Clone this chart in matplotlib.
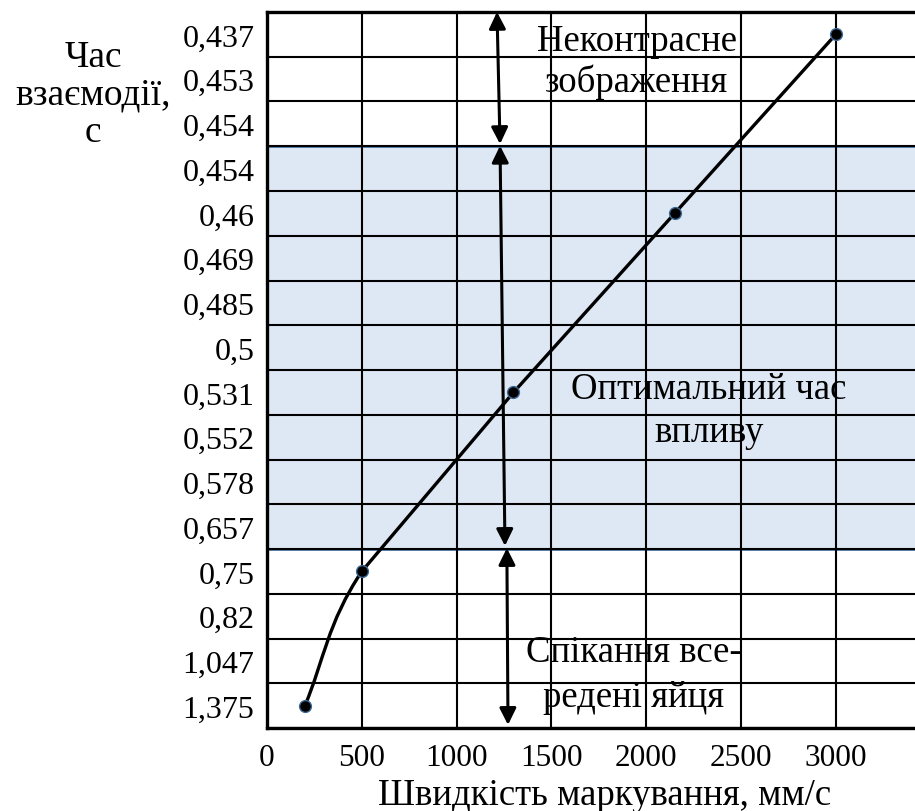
import numpy as np
import matplotlib
matplotlib.use('Agg')
import matplotlib.pyplot as plt
from matplotlib.path import Path
from matplotlib.patches import PathPatch

plt.rcParams['font.family'] = ['Liberation Serif', 'DejaVu Serif']

# y axis is a list of categories (one per row, top to bottom)
time_labels = ['0,437', '0,453', '0,454', '0,454', '0,46', '0,469', '0,485', '0,5',
               '0,531', '0,552', '0,578', '0,657', '0,75', '0,82', '1,047', '1,375']
speed = [200, 500, 1300, 2150, 3000]          # мм/с
point_time = ['1,375', '0,75', '0,531', '0,46', '0,437']
x_ticks = [0, 500, 1000, 1500, 2000, 2500, 3000]

# rows of the zones (row borders)
optimal_zone = (3, 12)
zone_texts = ['Неконтрасне\nзображення', 'Оптимальний час\nвпливу', 'Спікання все-\nредені яйця']

rows = len(time_labels)
py = [time_labels.index(t) + 0.5 for t in point_time]

fig = plt.figure(figsize=(9.15, 8.12), dpi=100)
ax = fig.add_axes([0.2918, 0.1022, 0.7253, 0.8818])
ax.set_xlim(0, 3500)
ax.set_ylim(rows, 0)

ax.axhspan(optimal_zone[0], optimal_zone[1], facecolor='#dee8f4', edgecolor='#4a76a8', lw=2, zorder=1)

ax.set_xticks(x_ticks)
ax.set_xticklabels([str(v) for v in x_ticks], fontsize=22.5)
ax.set_yticks(np.arange(rows) + 0.5)
ax.set_yticklabels(time_labels, fontsize=23)
ax.set_yticks(np.arange(rows + 1), minor=True)
ax.tick_params(which='both', length=0)
ax.tick_params(axis='y', pad=9)
ax.tick_params(axis='x', pad=11)
ax.grid(True, which='major', axis='x', color='black', lw=1.5, zorder=1.5)
ax.grid(True, which='minor', axis='y', color='black', lw=1.5, zorder=1.5)
for s in ['left', 'bottom', 'top']:
    ax.spines[s].set_linewidth(2.4)
ax.spines['right'].set_visible(False)

# first piece is a smooth curve, the rest is straight
pts = np.column_stack([speed, py]).astype(float)
c1 = pts[0] + (pts[1] - pts[0]) / 3
c2 = pts[1] - (pts[2] - pts[0]) / 6
verts = [tuple(pts[0]), tuple(c1), tuple(c2), tuple(pts[1])]
codes = [Path.MOVETO, Path.CURVE4, Path.CURVE4, Path.CURVE4]
for p in pts[2:]:
    verts.append(tuple(p))
    codes.append(Path.LINETO)
ax.add_patch(PathPatch(Path(verts, codes), fill=False, color='black', lw=2.4, zorder=3,
                       joinstyle='round', capstyle='round'))
ax.plot(speed, py, 'o', color='black', markersize=8.5, markeredgecolor='#3b6894', markeredgewidth=1, zorder=4)

# double arrows of the zones
arrows = [((1213, 0.0), (1229, 2.95)), ((1229, 2.99), (1255, 11.93)), ((1265, 11.98), (1271, 15.93))]
for a, b in arrows:
    ax.annotate('', xy=a, xytext=b,
                arrowprops=dict(arrowstyle='<|-|>', color='black', lw=2.2, mutation_scale=25,
                                shrinkA=0, shrinkB=0), zorder=5)

ax.text(1951, 1.1, zone_texts[0], fontsize=26.5, ha='center', va='center', linespacing=1.17)
ax.text(2330, 8.9, zone_texts[1], fontsize=26.5, ha='center', va='center', linespacing=1.33)
ax.text(1935, 14.8, zone_texts[2], fontsize=26.5, ha='center', va='center', linespacing=1.42)

ax.set_xlabel('Швидкість маркування, мм/с', fontsize=26.5, va='baseline')
ax.xaxis.set_label_coords(0.509, -0.106)
ax.set_ylabel('Час\nвзаємодії,\nс', fontsize=27, rotation=0, ha='center', va='center', linespacing=1.12)
ax.yaxis.set_label_coords(-0.262, 0.885)

fig.savefig('out.png', dpi=100)
